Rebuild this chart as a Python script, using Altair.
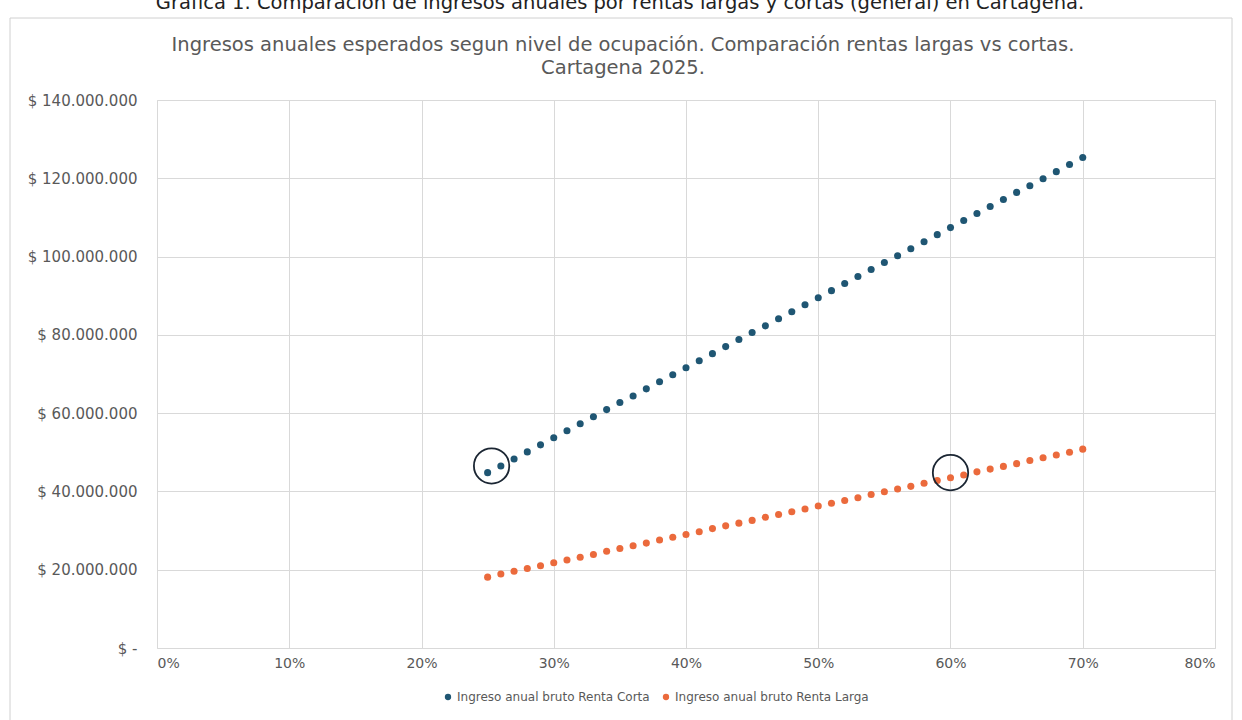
import altair as alt
import pandas as pd

# Occupancy levels (fraction)
occupancy = [p / 100 for p in range(25, 71)]

# Annual gross income, short-term rental (millions COP)
renta_corta = [44.8, 46.5, 48.3, 50.1, 51.9, 53.7, 55.5, 57.3, 59.1, 60.9,
               62.7, 64.4, 66.2, 68.0, 69.8, 71.6, 73.4, 75.2, 77.0, 78.8,
               80.6, 82.3, 84.1, 85.9, 87.7, 89.5, 91.3, 93.1, 94.9, 96.7,
               98.5, 100.2, 102.0, 103.8, 105.6, 107.4, 109.2, 111.0, 112.8, 114.6,
               116.4, 118.1, 119.9, 121.7, 123.5, 125.3]
# Annual gross income, long-term rental (millions COP)
renta_larga = [18.1, 18.9, 19.6, 20.3, 21.0, 21.8, 22.5, 23.2, 23.9, 24.7,
               25.4, 26.1, 26.8, 27.6, 28.3, 29.0, 29.7, 30.5, 31.2, 31.9,
               32.6, 33.4, 34.1, 34.8, 35.5, 36.3, 37.0, 37.7, 38.4, 39.2,
               39.9, 40.6, 41.3, 42.1, 42.8, 43.5, 44.2, 45.0, 45.7, 46.4,
               47.1, 47.9, 48.6, 49.3, 50.0, 50.8]

series_names = ["Ingreso anual bruto Renta Corta", "Ingreso anual bruto Renta Larga"]
series_colors = ["#1F5673", "#EB6A3C"]

# Highlight circles (annotations), millions COP
circle_x = [0.253, 0.600]
circle_y = [46.5, 44.8]

x_ticks = [0, 0.1, 0.2, 0.3, 0.4, 0.5, 0.6, 0.7, 0.8]
y_ticks = [0, 20e6, 40e6, 60e6, 80e6, 100e6, 120e6, 140e6]

title_lines = ["Ingresos anuales esperados segun nivel de ocupación. Comparación rentas largas vs cortas.",
               "Cartagena 2025."]
header = "Gráfica 1. Comparación de ingresos anuales por rentas largas y cortas (general) en Cartagena."

rows = []
for o, v in zip(occupancy, renta_corta):
    rows.append({"occ": o, "value": v * 1e6, "serie": series_names[0]})
for o, v in zip(occupancy, renta_larga):
    rows.append({"occ": o, "value": v * 1e6, "serie": series_names[1]})
df = pd.DataFrame(rows)

circles = pd.DataFrame({"occ": circle_x, "value": [v * 1e6 for v in circle_y]})

FONT = "DejaVu Sans"
GRAY = "#595959"

x_enc = alt.X("occ:Q", scale=alt.Scale(domain=[0, 0.8], nice=False),
              axis=alt.Axis(format=".0%", values=x_ticks, title=None, grid=True, ticks=False,
                            domain=False, labelColor=GRAY, labelFontSize=14, labelFont=FONT,
                            labelPadding=8, gridColor="#d9d9d9"))
y_enc = alt.Y("value:Q", scale=alt.Scale(domain=[0, 140e6], nice=False),
              axis=alt.Axis(values=y_ticks, title=None, grid=True, ticks=False, domain=False,
                            labelExpr="datum.value == 0 ? '$ -' : '$ ' + replace(format(datum.value, ',d'), /,/g, '.')",
                            labelColor=GRAY, labelFontSize=15, labelFont=FONT, labelPadding=20,
                            gridColor="#d9d9d9"))

points = alt.Chart(df).mark_circle(size=50, opacity=1).encode(
    x=x_enc,
    y=y_enc,
    color=alt.Color("serie:N",
                    scale=alt.Scale(domain=series_names, range=series_colors),
                    legend=alt.Legend(orient="none", legendX=285, legendY=591, direction="horizontal",
                                      title=None, symbolType="circle", symbolSize=40,
                                      labelFontSize=12, labelFont=FONT, labelColor=GRAY,
                                      labelLimit=400, labelOffset=3,
                                      columnPadding=10, symbolStrokeWidth=0)),
)

rings = alt.Chart(circles).mark_point(shape="circle", filled=False, size=1250,
                                      stroke="#1b2633", strokeWidth=1.8, opacity=1).encode(
    x="occ:Q", y="value:Q"
)

frame = alt.Chart(pd.DataFrame({"a": [0]})).mark_rect(fill=None, stroke="#d0d0d0", strokeWidth=1).encode(
    x=alt.value(-147), x2=alt.value(1075), y=alt.value(-82), y2=alt.value(640)
)

head = alt.Chart(pd.DataFrame({"t": [header]})).mark_text(
    font=FONT, fontSize=19.5, color="#222222", align="center", baseline="alphabetic"
).encode(text="t:N", x=alt.value(463), y=alt.value(-91))

title1 = alt.Chart(pd.DataFrame({"t": [title_lines[0]]})).mark_text(
    font=FONT, fontSize=19.5, color=GRAY, align="center", baseline="alphabetic"
).encode(text="t:N", x=alt.value(466), y=alt.value(-49))

title2 = alt.Chart(pd.DataFrame({"t": [title_lines[1]]})).mark_text(
    font=FONT, fontSize=19.5, color=GRAY, align="center", baseline="alphabetic"
).encode(text="t:N", x=alt.value(466), y=alt.value(-26))

chart = alt.layer(frame, points, rings, head, title1, title2).properties(
    width=1058, height=548,
    autosize=alt.AutoSizeParams(type="none"),
    padding={"left": 157, "top": 100, "right": 27, "bottom": 72},
).configure_view(stroke=None).configure(background="white")

chart.save("out.html", embed_options={"renderer": "svg", "actions": False})
